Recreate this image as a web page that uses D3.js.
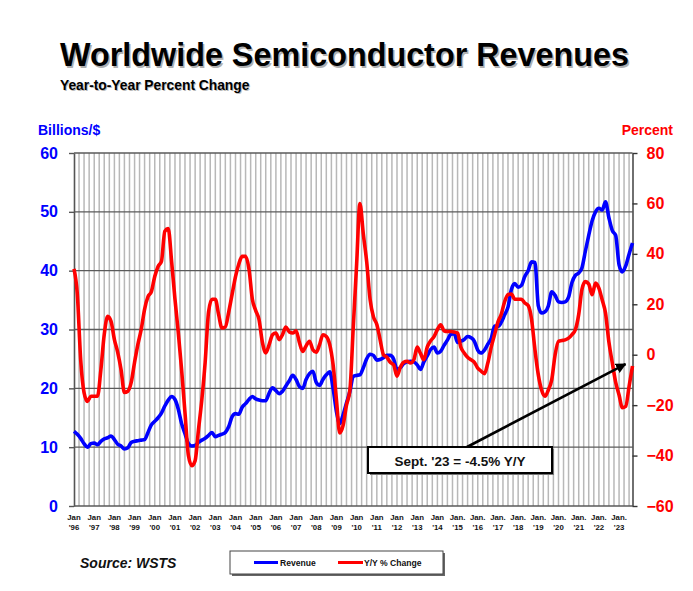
<!DOCTYPE html>
<html>
<head>
<meta charset="utf-8">
<script src="https://cdn.jsdelivr.net/npm/d3@7"></script>
<style>
  html, body { margin: 0; padding: 0; background: #fff; }
  svg { display: block; font-family: "Liberation Sans", Arial, sans-serif; }
</style>
</head>
<body>
<svg id="chart" width="693" height="591"></svg>
<script>
// ---- Data (bi-monthly readings, Jan 1996 .. Sep 2023) ----
const startYear = 1996;
const stepMonths = 2;
const revenue = [
  12.7, 12.2, 11.5, 10.6, 10.0, 10.6,
  10.7, 10.4, 11.0, 11.4, 11.6, 11.9,
  11.3, 10.5, 10.2, 9.7, 9.9, 10.8,
  11.0, 11.1, 11.2, 11.3, 12.5, 13.8,
  14.4, 15.0, 15.8, 17.0, 18.0, 18.6,
  18.1, 16.5, 14.0, 12.3, 10.6, 10.2,
  10.3, 10.8, 11.2, 11.5, 12.0, 12.5,
  11.8, 12.0, 12.2, 12.5, 13.5, 15.2,
  15.7, 15.6, 16.8, 17.4, 18.1, 18.6,
  18.2, 18.0, 17.9, 17.9, 19.2, 20.1,
  19.6, 19.1, 19.5, 20.4, 21.3, 22.2,
  21.5, 20.3, 20.0, 21.5, 22.5, 22.9,
  21.0, 20.5, 21.5, 22.3, 22.8, 20.0,
  16.0, 14.0, 15.5, 17.5, 19.5, 22.0,
  22.2, 22.3, 23.5, 25.0, 25.8, 25.6,
  24.8, 24.9, 25.2, 25.6, 25.6, 25.0,
  23.2, 23.5, 24.2, 24.5, 24.6, 24.5,
  24.0, 23.2, 24.5, 25.5, 26.6, 27.0,
  26.0, 26.3, 27.3, 28.2, 29.2, 29.3,
  27.8, 28.0, 28.3, 28.8, 28.6, 28.0,
  26.5, 26.0, 26.5, 27.5, 28.5, 30.6,
  30.5, 31.2, 32.5, 33.8, 36.8, 37.8,
  37.2, 37.5, 39.0, 40.0, 41.5, 41.4,
  34.0, 32.8, 33.0, 34.0, 36.4, 35.8,
  34.7, 34.6, 34.7, 35.5, 38.0, 39.2,
  39.6, 40.5, 43.3, 46.0, 48.5, 50.0,
  50.6, 50.3, 51.7, 49.0, 46.8, 46.0,
  41.0, 39.8, 40.8, 42.8, 44.7
];
const yoyChange = [
  34, 24, -2, -15, -18.5, -16.5,
  -16.5, -16.5, -6, 8, 15.2, 13.2,
  6, 1, -5.9, -15, -14.5, -11,
  -3, 4, 10, 18, 23, 25,
  31, 35, 37, 49, 50, 37,
  22, 9, -6, -23, -40, -44,
  -42, -30, -18, -3, 17, 22,
  22, 16, 10.6, 11, 17, 24,
  31, 36, 39, 39, 34, 22,
  17.5, 14, 5, 0.7, 4, 7.9,
  8.6, 6, 8, 11, 9, 8.6,
  9.5, 5, 1.3, 3.5, 5.3, 2,
  1, 4, 7.9, 7.2, 4, -4,
  -18, -31, -28, -20, -14, 11,
  36, 60, 48, 37, 22, 15,
  12, 6, 0, -1, -3, -4,
  -8.5, -5, -3, -2.6, -3.3, -2,
  3, 0.5, -2, 3, 5.5, 7.2,
  10, 11.9, 9.5, 9.2, 9.2, 9,
  8.6, 3, 0.7, -1, -2, -3,
  -5.3, -6.5, -7.5, -3.3, 3, 8,
  13, 16, 21, 23.8, 24.1, 22,
  22, 22, 20.5, 19.5, 14, 2,
  -8, -14, -16.5, -14, -9.9, 0,
  5.3, 5.6, 5.9, 6.6, 8, 9.9,
  16, 26, 29, 28, 23.8, 28.4,
  26.4, 21.8, 16.5, 5, -3.3, -11,
  -16, -21, -20.5, -12.6, -4.5
];
const leftTicks = [0, 10, 20, 30, 40, 50, 60];
const rightTicks = [-60, -40, -20, 0, 20, 40, 60, 80];
const yearLabels = ["'96","'97","'98","'99","'00","'01","'02","'03","'04","'05","'06","'07","'08","'09",
                    "'10","'11","'12","'13","'14","'15","'16","'17","'18","'19","'20","'21","'22","'23"];
const annotationText = "Sept. '23 = -4.5% Y/Y";

// ---- Layout ----
const svg = d3.select("#chart");
const L = 74, R = 632.5, T = 153, B = 506;
const FONT = '"Liberation Sans", Arial, sans-serif';

const dates = revenue.map((_, i) => d3.timeMonth.offset(new Date(startYear, 0, 1), i * stepMonths));
const x = d3.scaleTime().domain([dates[0], dates[dates.length - 1]]).range([L, R]);
const yL = d3.scaleLinear().domain([0, 60]).range([B, T]);
const yR = d3.scaleLinear().domain([-60, 80]).range([B, T]);

// Title
const title = "Worldwide Semiconductor Revenues";
svg.append("text").attr("x", 61.5).attr("y", 67.5).attr("font-size", 32.5).attr("font-weight", "bold")
  .attr("textLength", 569).attr("lengthAdjust", "spacingAndGlyphs")
  .attr("fill", "#b0b0b0").text(title);
svg.append("text").attr("x", 60).attr("y", 66).attr("font-size", 32.5).attr("font-weight", "bold")
  .attr("textLength", 569).attr("lengthAdjust", "spacingAndGlyphs")
  .attr("fill", "#000").text(title);
svg.append("text").attr("x", 61).attr("y", 91).attr("font-size", 13.8).attr("font-weight", "bold")
  .attr("fill", "#bbb").text("Year-to-Year Percent Change");
svg.append("text").attr("x", 60).attr("y", 90).attr("font-size", 13.8).attr("font-weight", "bold")
  .attr("fill", "#000").text("Year-to-Year Percent Change");

svg.append("text").attr("x", 38).attr("y", 135).attr("font-size", 14).attr("font-weight", "bold")
  .attr("fill", "#0000ff").text("Billions/$");
svg.append("text").attr("x", 673).attr("y", 135).attr("font-size", 14).attr("font-weight", "bold")
  .attr("text-anchor", "end").attr("fill", "#ff0000").text("Percent");

// Vertical quarterly gridlines
const qTicks = d3.timeMonth.every(3).range(dates[0], d3.timeMonth.offset(dates[dates.length - 1], 1));
svg.append("g").selectAll("line").data(qTicks.slice(1)).join("line")
  .attr("x1", d => x(d)).attr("x2", d => x(d)).attr("y1", T).attr("y2", B)
  .attr("stroke", "#b8b8b8").attr("stroke-width", 1.5);

// Horizontal gridlines (left axis)
svg.append("g").selectAll("line").data(leftTicks).join("line")
  .attr("x1", L).attr("x2", R).attr("y1", d => yL(d)).attr("y2", d => yL(d))
  .attr("stroke", "#5a5a5a").attr("stroke-width", 1.4);

// Left axis
const gL = svg.append("g").attr("transform", `translate(${L},0)`)
  .call(d3.axisLeft(yL).tickValues(leftTicks).tickSize(5).tickPadding(11).tickSizeOuter(0));
gL.select(".domain").attr("stroke", "#555").attr("stroke-width", 1.6);
gL.selectAll(".tick line").attr("stroke", "#555").attr("stroke-width", 1.4);
gL.selectAll(".tick text").attr("fill", "#0000ff").attr("font-size", 16).attr("font-weight", "bold")
  .attr("font-family", FONT);

// Right axis
const gR = svg.append("g").attr("transform", `translate(${R},0)`)
  .call(d3.axisRight(yR).tickValues(rightTicks).tickSize(5).tickPadding(9).tickSizeOuter(0));
gR.select(".domain").attr("stroke", "#333").attr("stroke-width", 1.4);
gR.selectAll(".tick line").attr("stroke", "#333").attr("stroke-width", 1.4);
gR.selectAll(".tick text").attr("fill", "#ff0000").attr("font-size", 16).attr("font-weight", "bold")
  .attr("font-family", FONT);

// X labels
const jan = yearLabels.map((_, i) => new Date(startYear + i, 0, 1));
const xl = svg.append("g").selectAll("text").data(jan).join("text")
  .attr("x", d => x(d)).attr("text-anchor", "middle").attr("font-size", 7.8).attr("font-weight", "bold")
  .attr("fill", "#111");
xl.append("tspan").attr("x", d => x(d)).attr("y", 520).text((d, i) => (startYear + i >= 2015 ? "Jan." : "Jan"));
xl.append("tspan").attr("x", d => x(d)).attr("y", 529.5).text((d, i) => yearLabels[i]);

// Lines
const pts = dates.map((d, i) => ({ d, rev: revenue[i], yoy: yoyChange[i] }));
svg.append("path").datum(pts)
  .attr("fill", "none").attr("stroke", "#0000ff").attr("stroke-width", 3.6).attr("stroke-linejoin", "round")
  .attr("d", d3.line().x(p => x(p.d)).y(p => yL(p.rev)).curve(d3.curveMonotoneX));
svg.append("path").datum(pts)
  .attr("fill", "none").attr("stroke", "#ff0000").attr("stroke-width", 3.6).attr("stroke-linejoin", "round")
  .attr("d", d3.line().x(p => x(p.d)).y(p => yR(p.yoy)).curve(d3.curveMonotoneX));

// Annotation arrow
const defs = svg.append("defs");
defs.append("marker").attr("id", "ah").attr("viewBox", "0 0 10 10").attr("refX", 9).attr("refY", 5)
  .attr("markerWidth", 4).attr("markerHeight", 4).attr("orient", "auto-start-reverse")
  .append("path").attr("d", "M0,0 L10,5 L0,10 z").attr("fill", "#000");
const last = pts[pts.length - 1];
svg.append("line").attr("x1", 467).attr("y1", 447).attr("x2", x(last.d) - 7).attr("y2", yR(last.yoy) - 2)
  .attr("stroke", "#000").attr("stroke-width", 2.6).attr("marker-end", "url(#ah)");

// Annotation box
svg.append("rect").attr("x", 370).attr("y", 449).attr("width", 184).attr("height", 26).attr("fill", "#777");
svg.append("rect").attr("x", 368).attr("y", 447).attr("width", 184).attr("height", 26)
  .attr("fill", "#fff").attr("stroke", "#000").attr("stroke-width", 2);
svg.append("text").attr("x", 460).attr("y", 465.5).attr("text-anchor", "middle").attr("font-size", 13.5)
  .attr("font-weight", "bold").attr("fill", "#111").text(annotationText);

// Source
svg.append("text").attr("x", 80).attr("y", 568).attr("font-size", 14).attr("font-weight", "bold")
  .attr("font-style", "italic").attr("fill", "#111").text("Source: WSTS");

// Legend
svg.append("rect").attr("x", 232).attr("y", 553).attr("width", 213).attr("height", 23).attr("fill", "#666");
svg.append("rect").attr("x", 230).attr("y", 551).attr("width", 213).attr("height", 23)
  .attr("fill", "#fff").attr("stroke", "#444").attr("stroke-width", 1);
svg.append("line").attr("x1", 254).attr("x2", 278).attr("y1", 562.5).attr("y2", 562.5)
  .attr("stroke", "#0000ff").attr("stroke-width", 3);
svg.append("text").attr("x", 280).attr("y", 565.5).attr("font-size", 8.6).attr("font-weight", "bold")
  .attr("fill", "#111").text("Revenue");
svg.append("line").attr("x1", 338).attr("x2", 363).attr("y1", 562.5).attr("y2", 562.5)
  .attr("stroke", "#ff0000").attr("stroke-width", 3);
svg.append("text").attr("x", 364).attr("y", 565.5).attr("font-size", 8.6).attr("font-weight", "bold")
  .attr("fill", "#111").text("Y/Y % Change");
</script>
</body>
</html>
